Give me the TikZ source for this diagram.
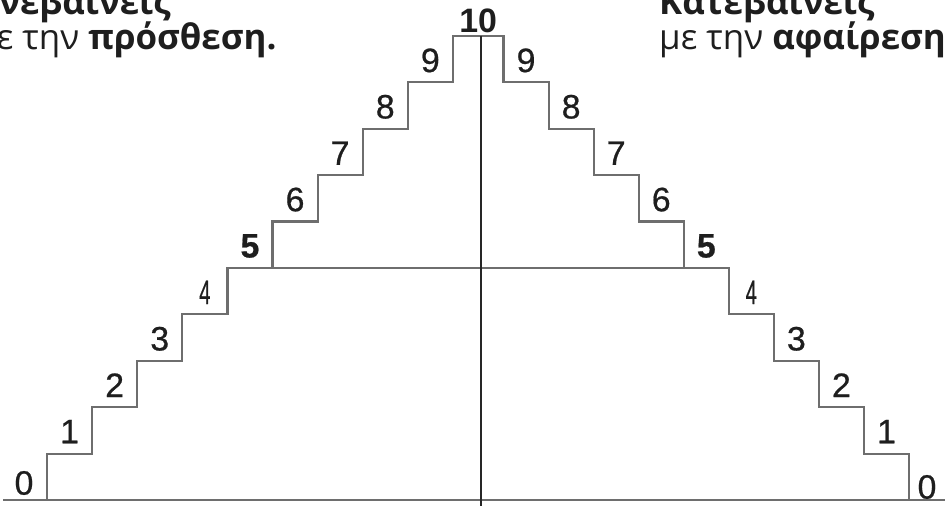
\documentclass[tikz,border=0pt]{standalone}
\usepackage{fontspec}
\setmainfont{Liberation Sans}
\newfontfamily\grfont{Open Sans}
\newfontfamily\digfont[FakeBold=0.6]{Liberation Sans}
\definecolor{stairgray}{HTML}{6E6E6E}
\definecolor{txtdark}{HTML}{1E1E1E}
\tikzset{
  stair/.style={draw=stairgray,line width=2.2bp},
  axis/.style={draw=black!85,line width=2.4bp},
  num/.style={inner sep=0pt,text=txtdark,font=\digfont\fontsize{34}{34}\selectfont},
  head/.style={inner sep=0pt,anchor=base west,text=txtdark,font=\grfont\fontsize{35}{36}\selectfont}
}
\newcommand{\thindig}[1]{\scalebox{0.6}[1]{#1}}

\begin{document}
\begin{tikzpicture}[x=1bp,y=-1bp]
  \useasboundingbox (0,0) rectangle (945,506);
  \clip (0,0) rectangle (945,506);

  % steps up and down
  \draw[stair] (47,500) \foreach \k in {1,...,9}{ |- ({47+\k*45.1},{500-\k*46.4}) } |- (503.5,36)
    \foreach \k in {9,...,1}{ |- ({909-(\k-1)*45.05},{500-\k*46.4}) } -- (909,500);
  \draw[stair] (3,500) -- (945,500);
  \draw[stair] (227.4,268) -- (728.8,268);
  \draw[axis] (481,36) -- (481,506);

  % numbers
  \node[num] (l0) at (24,483) {0};
  \node[num] (r0) at (927,487) {0};
  \foreach \k/\t in {1/1,2/2,3/3,4/\thindig{4},5/\textbf{5},6/6,7/7,8/8,9/9}{
    \node[num] (l\k) at ({47+(\k-0.5)*45.1},{478-\k*46.4}) {\t};
    \node[num] (r\k) at ({909-(\k-0.5)*45.05},{478-\k*46.4}) {\t};
  }
  \node[num,font=\fontsize{34}{34}\selectfont\bfseries] (top) at (478.2,21) {10};

  % headings
  \node[head] (upA) at (-25,15) {\bfseries Ανεβαίνεις};
  \node[head] (upB) at (-25,50) {με την \textbf{πρόσθεση.}};
  \node[head] (downA) at (659,15) {\bfseries Κατεβαίνεις};
  \node[head] (downB) at (659,50) {με την \textbf{αφαίρεση}};
\end{tikzpicture}
\end{document}
